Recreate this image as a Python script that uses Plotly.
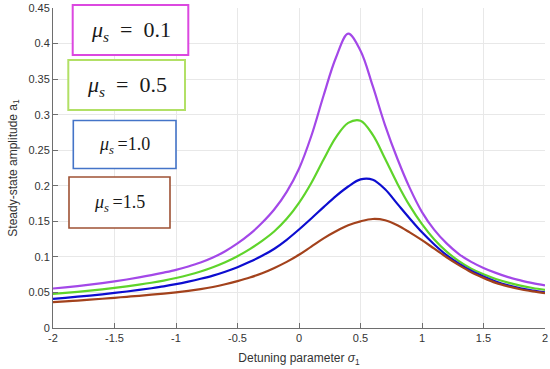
import plotly.graph_objects as go

# ---- data (sigma step 0.1) ----
sigma = [round(-2 + 0.1 * i, 1) for i in range(41)]

a_mu01 = [0.0555, 0.0572, 0.0590, 0.0610, 0.0632, 0.0656, 0.0682, 0.0711, 0.0743, 0.0779,
          0.0818, 0.0865, 0.0920, 0.0990, 0.1080, 0.1190, 0.1320, 0.1480, 0.1670, 0.1915,
          0.2240, 0.2700, 0.3270, 0.3800, 0.4140, 0.3900, 0.3400, 0.2850, 0.2380, 0.1970,
          0.1630, 0.1380, 0.1190, 0.1040, 0.0930, 0.0845, 0.0775, 0.0715, 0.0670, 0.0630,
          0.0598]
a_mu05 = [0.0480, 0.0494, 0.0509, 0.0525, 0.0543, 0.0563, 0.0585, 0.0609, 0.0636, 0.0667,
          0.0703, 0.0745, 0.0795, 0.0855, 0.0925, 0.1010, 0.1110, 0.1225, 0.1360, 0.1535,
          0.1760, 0.2040, 0.2370, 0.2680, 0.2885, 0.2915, 0.2715, 0.2380, 0.2030, 0.1720,
          0.1460, 0.1245, 0.1075, 0.0940, 0.0835, 0.0755, 0.0690, 0.0638, 0.0596, 0.0562,
          0.0535]
a_mu10 = [0.0410, 0.0425, 0.0440, 0.0456, 0.0474, 0.0493, 0.0513, 0.0535, 0.0559, 0.0585,
          0.0616, 0.0652, 0.0692, 0.0737, 0.0792, 0.0855, 0.0930, 0.1015, 0.1115, 0.1240,
          0.1385, 0.1540, 0.1700, 0.1855, 0.1990, 0.2090, 0.2085, 0.1950, 0.1745, 0.1540,
          0.1345, 0.1175, 0.1025, 0.0905, 0.0805, 0.0725, 0.0655, 0.0600, 0.0557, 0.0525,
          0.0500]
a_mu15 = [0.0363, 0.0374, 0.0386, 0.0398, 0.0411, 0.0425, 0.0439, 0.0453, 0.0468, 0.0484,
          0.0502, 0.0523, 0.0547, 0.0577, 0.0615, 0.0660, 0.0710, 0.0770, 0.0845, 0.0930,
          0.1030, 0.1145, 0.1260, 0.1360, 0.1445, 0.1500, 0.1533, 0.1515, 0.1445, 0.1345,
          0.1235, 0.1115, 0.0995, 0.0885, 0.0785, 0.0705, 0.0635, 0.0585, 0.0545, 0.0515,
          0.0490]

series = [a_mu01, a_mu05, a_mu10, a_mu15]
mu_values = ["0.1", "0.5", "1.0", "1.5"]
line_colors = ["#a348e8", "#5fd42a", "#0d0dd0", "#a3421c"]
box_colors = ["#dc48e0", "#b2e066", "#4474c8", "#9e5234"]

x_tickvals = [-2, -1.5, -1, -0.5, 0, 0.5, 1, 1.5, 2]
x_ticktext = ["-2", "-1.5", "-1", "-0.5", "0", "0.5", "1", "1.5", "2"]
y_tickvals = [0, 0.05, 0.1, 0.15, 0.2, 0.25, 0.3, 0.35, 0.4, 0.45]
y_ticktext = ["0", "0.05", "0.1", "0.15", "0.2", "0.25", "0.3", "0.35", "0.4", "0.45"]

# ---- layout geometry (pixels) ----
W, H = 550, 369
L, R, T, B = 53, 5, 8, 41
PW, PH = W - L - R, H - T - B


def px(x):
    return (x - L) / PW


def py(y):
    return (H - B - y) / PH


fig = go.Figure()
for vals, mu, col in zip(series, mu_values, line_colors):
    fig.add_trace(go.Scatter(x=sigma, y=vals, mode="lines", name="μs = " + mu,
                             line=dict(color=col, width=2.2, shape="spline", smoothing=1.0),
                             showlegend=False))

boxes = [(72.7, 188.3, 5, 55), (68.3, 185, 60, 110), (73.3, 176, 120.5, 168.5), (69, 170, 177, 228)]
box_widths = [2, 2, 1.6, 1.6]
font_sizes = [22, 22, 18, 18]
labels = ["<i>μ</i><sub><i>s</i></sub>\u2002=\u20020.1",
          "<i>μ</i><sub><i>s</i></sub>\u2002=\u20020.5",
          "<i>μ</i><sub><i>s</i></sub>\u2009=1.0",
          "<i>μ</i><sub><i>s</i></sub>\u2009=1.5"]

shapes = []
annotations = []
for (x0, x1, y0, y1), bc, bw, fs, lab in zip(boxes, box_colors, box_widths, font_sizes, labels):
    shapes.append(dict(type="rect", xref="paper", yref="paper",
                       x0=px(x0), x1=px(x1), y0=py(y1), y1=py(y0),
                       line=dict(color=bc, width=bw), fillcolor="white", layer="above"))
    annotations.append(dict(xref="paper", yref="paper", x=px((x0 + x1) / 2), y=py((y0 + y1) / 2 + 1),
                            text=lab, showarrow=False, xanchor="center", yanchor="middle",
                            font=dict(family="Liberation Serif", size=fs, color="#1a1a1a")))

fig.update_layout(
    width=W, height=H,
    margin=dict(l=L, r=R, t=T, b=B, autoexpand=False),
    paper_bgcolor="white", plot_bgcolor="white",
    font=dict(family="Liberation Sans", size=11, color="#333333"),
    shapes=shapes, annotations=annotations,
    xaxis=dict(range=[-2, 2], tickvals=x_tickvals, ticktext=x_ticktext,
               showgrid=True, gridcolor="#e8e8e8", gridwidth=1, zeroline=False,
               showline=True, linecolor="#6e6e6e", linewidth=1, mirror=False,
               ticks="inside", ticklen=5, tickcolor="#6e6e6e",
               ticklabeloverflow="allow",
               tickfont=dict(size=11, color="#333333"),
               title=dict(text="Detuning parameter <i>σ</i><sub>1</sub>",
                          font=dict(size=12, color="#333333"), standoff=10)),
    yaxis=dict(range=[0, 0.45], tickvals=y_tickvals, ticktext=y_ticktext,
               showgrid=True, gridcolor="#e8e8e8", gridwidth=1, zeroline=False,
               showline=True, linecolor="#6e6e6e", linewidth=1, mirror=False,
               ticks="inside", ticklen=5, tickcolor="#6e6e6e",
               tickfont=dict(size=11, color="#333333"),
               title=dict(text="Steady-state amplitude a<sub>1</sub>",
                          font=dict(size=12, color="#333333"), standoff=8)),
)

fig.write_html("out.html", config={"displayModeBar": False},
               post_script="document.body.style.margin='0';")
